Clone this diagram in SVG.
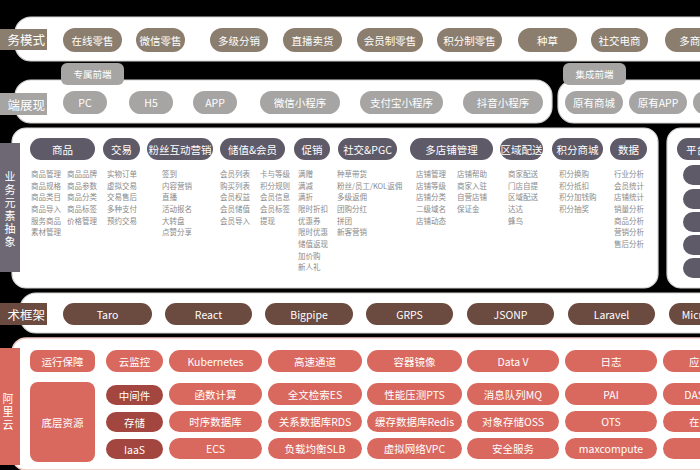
<svg xmlns="http://www.w3.org/2000/svg" width="700" height="470" viewBox="0 0 700 470">
<style>
text{font-family:"Noto Sans CJK SC","Liberation Sans",sans-serif;}
.panel{fill:#ffffff;stroke:#d6d4d2;stroke-width:1.2;}
.pw{fill:#ffffff;font-size:10.5px;text-anchor:middle;dominant-baseline:central;}
.lab{fill:#ffffff;font-size:12.5px;text-anchor:end;dominant-baseline:central;}
.vlab{fill:#ffffff;font-size:11px;writing-mode:vertical-rl;letter-spacing:2px;}
.m{fill:#8b7e6e;}
.f{fill:#a6a5a3;}
.h{fill:#5f5a68;}
.b{fill:#6b4a3f;}
.r{fill:#d9685e;}
.rd{fill:#a2463f;}
.it{fill:#8a8a8a;font-size:7.5px;}
</style>
<rect x="0" y="0" width="700" height="470" fill="#000000"/>

<!-- Row 1: business mode -->
<g id="row-mode">
<rect class="panel" x="15" y="17" width="700" height="44" rx="16"/>
<rect class="m" x="-5" y="29" width="52" height="21"/>
<text class="lab" x="45" y="39.5">务模式</text>
<g id="m1"><rect class="m" x="63" y="28" width="59" height="24" rx="12"/><text class="pw" x="92.5" y="40">在线零售</text></g>
<g id="m2"><rect class="m" x="136" y="28" width="49" height="24" rx="12"/><text class="pw" x="160.5" y="40">微信零售</text></g>
<g id="m3"><rect class="m" x="210" y="28" width="58" height="24" rx="12"/><text class="pw" x="239" y="40">多级分销</text></g>
<g id="m4"><rect class="m" x="283" y="28" width="59" height="24" rx="12"/><text class="pw" x="312.5" y="40">直播卖货</text></g>
<g id="m5"><rect class="m" x="357" y="28" width="66" height="24" rx="12"/><text class="pw" x="390" y="40">会员制零售</text></g>
<g id="m6"><rect class="m" x="437" y="28" width="65" height="24" rx="12"/><text class="pw" x="469.5" y="40">积分制零售</text></g>
<g id="m7"><rect class="m" x="518" y="28" width="59" height="24" rx="12"/><text class="pw" x="547.5" y="40">种草</text></g>
<g id="m8"><rect class="m" x="591" y="28" width="57" height="24" rx="12"/><text class="pw" x="619.5" y="40">社交电商</text></g>
<g id="m9"><rect class="m" x="665" y="28" width="60" height="24" rx="12"/><text class="pw" x="695" y="40">多商户</text></g>
</g>

<!-- Row 2: front end -->
<g id="row-front">
<rect class="panel" x="15" y="80" width="537" height="43" rx="16"/>
<rect class="panel" x="558" y="80" width="160" height="43" rx="16"/>
<g id="tab1"><rect class="f" x="61" y="63" width="63" height="22" rx="6"/><text class="pw" x="92.5" y="74" style="font-size:9.5px">专属前端</text></g>
<g id="tab2"><rect class="f" x="563" y="63" width="63" height="22" rx="6"/><text class="pw" x="594.5" y="74" style="font-size:9.5px">集成前端</text></g>
<rect class="f" x="-5" y="93" width="52" height="22"/>
<text class="lab" x="45" y="104">端展现</text>
<g id="f1"><rect class="f" x="63" y="91" width="44" height="23" rx="11.5"/><text class="pw" x="85" y="102.5">PC</text></g>
<g id="f2"><rect class="f" x="129" y="91" width="44" height="23" rx="11.5"/><text class="pw" x="151" y="102.5">H5</text></g>
<g id="f3"><rect class="f" x="193" y="91" width="44" height="23" rx="11.5"/><text class="pw" x="215" y="102.5">APP</text></g>
<g id="f4"><rect class="f" x="260" y="91" width="80" height="23" rx="11.5"/><text class="pw" x="300" y="102.5">微信小程序</text></g>
<g id="f5"><rect class="f" x="360" y="91" width="83" height="23" rx="11.5"/><text class="pw" x="401.5" y="102.5">支付宝小程序</text></g>
<g id="f6"><rect class="f" x="463" y="91" width="80" height="23" rx="11.5"/><text class="pw" x="503" y="102.5">抖音小程序</text></g>
<g id="f7"><rect class="f" x="565" y="91" width="58" height="23" rx="11.5"/><text class="pw" x="594" y="102.5">原有商城</text></g>
<g id="f8"><rect class="f" x="629" y="91" width="58" height="23" rx="11.5"/><text class="pw" x="658" y="102.5">原有APP</text></g>
<g id="f9"><rect class="f" x="693" y="91" width="58" height="23" rx="11.5"/></g>
</g>

<!-- Row 3: business elements -->
<g id="row-elements">
<rect class="panel" x="12" y="128" width="646" height="160" rx="14"/>
<rect class="panel" x="667" y="128" width="60" height="160" rx="14"/>
<rect x="-5" y="143" width="25" height="129" fill="#6d6874"/>
<text class="vlab" x="10" y="171">业务元素抽象</text>

<g id="h1"><rect class="h" x="30" y="138" width="65" height="22" rx="11"/><text class="pw" x="62.5" y="149">商品</text></g>
<g id="h2"><rect class="h" x="103" y="138" width="37" height="22" rx="11"/><text class="pw" x="121.5" y="149">交易</text></g>
<g id="h3"><rect class="h" x="147" y="138" width="66" height="22" rx="11"/><text class="pw" x="180" y="149">粉丝互动营销</text></g>
<g id="h4"><rect class="h" x="220" y="138" width="65" height="22" rx="11"/><text class="pw" x="252.5" y="149">储值&amp;会员</text></g>
<g id="h5"><rect class="h" x="294" y="138" width="36" height="22" rx="11"/><text class="pw" x="312" y="149">促销</text></g>
<g id="h6"><rect class="h" x="338" y="138" width="59" height="22" rx="11"/><text class="pw" x="367.5" y="149">社交&amp;PGC</text></g>
<g id="h7"><rect class="h" x="410" y="138" width="83" height="22" rx="11"/><text class="pw" x="451.5" y="149">多店铺管理</text></g>
<g id="h8"><rect class="h" x="500" y="138" width="43" height="22" rx="11"/><text class="pw" x="521.5" y="149">区域配送</text></g>
<g id="h9"><rect class="h" x="552" y="138" width="51" height="22" rx="11"/><text class="pw" x="577.5" y="149">积分商城</text></g>
<g id="h10"><rect class="h" x="610" y="138" width="37" height="22" rx="11"/><text class="pw" x="628.5" y="149">数据</text></g>
<g id="h11"><rect class="h" x="677" y="138" width="60" height="22" rx="11"/><text class="pw" x="707" y="149">平台管理</text></g>
<g id="side-pills">
<rect class="h" x="683" y="165" width="40" height="20" rx="10"/>
<rect class="h" x="683" y="189" width="40" height="20" rx="10"/>
<rect class="h" x="683" y="212" width="40" height="20" rx="10"/>
<rect class="h" x="683" y="235" width="40" height="20" rx="10"/>
<rect class="h" x="683" y="258" width="40" height="20" rx="10"/>
</g>

<g id="items">
<text class="it" x="31"><tspan x="31" y="177">商品管理</tspan><tspan x="31" y="189">商品规格</tspan><tspan x="31" y="200">商品类目</tspan><tspan x="31" y="212">商品导入</tspan><tspan x="31" y="224">服务商品</tspan><tspan x="31" y="235">素材管理</tspan></text>
<text class="it" x="67"><tspan x="67" y="177">商品品牌</tspan><tspan x="67" y="189">商品参数</tspan><tspan x="67" y="200">商品分类</tspan><tspan x="67" y="212">商品标签</tspan><tspan x="67" y="224">价格管理</tspan></text>
<text class="it" x="107"><tspan x="107" y="177">实物订单</tspan><tspan x="107" y="189">虚拟交易</tspan><tspan x="107" y="200">交易售后</tspan><tspan x="107" y="212">多种支付</tspan><tspan x="107" y="224">预约交易</tspan></text>
<text class="it" x="162"><tspan x="162" y="177">签到</tspan><tspan x="162" y="189">内容营销</tspan><tspan x="162" y="200">直播</tspan><tspan x="162" y="212">活动报名</tspan><tspan x="162" y="224">大转盘</tspan><tspan x="162" y="235">点赞分享</tspan></text>
<text class="it" x="220"><tspan x="220" y="177">会员列表</tspan><tspan x="220" y="189">购买列表</tspan><tspan x="220" y="200">会员权益</tspan><tspan x="220" y="212">会员储值</tspan><tspan x="220" y="224">会员导入</tspan></text>
<text class="it" x="260"><tspan x="260" y="177">卡与等级</tspan><tspan x="260" y="189">积分规则</tspan><tspan x="260" y="200">会员信息</tspan><tspan x="260" y="212">会员标签</tspan><tspan x="260" y="224">提现</tspan></text>
<text class="it" x="298"><tspan x="298" y="177">满赠</tspan><tspan x="298" y="189">满减</tspan><tspan x="298" y="200">满折</tspan><tspan x="298" y="212">限时折扣</tspan><tspan x="298" y="224">优惠券</tspan><tspan x="298" y="235">限时优惠</tspan><tspan x="298" y="247">储值返现</tspan><tspan x="298" y="259">加价购</tspan><tspan x="298" y="270">新人礼</tspan></text>
<text class="it" x="337"><tspan x="337" y="177">种草带货</tspan><tspan x="337" y="189">粉丝/员工/KOL返佣</tspan><tspan x="337" y="200">多级返佣</tspan><tspan x="337" y="212">团购分红</tspan><tspan x="337" y="224">拼团</tspan><tspan x="337" y="235">新客营销</tspan></text>
<text class="it" x="416"><tspan x="416" y="177">店铺管理</tspan><tspan x="416" y="189">店铺等级</tspan><tspan x="416" y="200">店铺分类</tspan><tspan x="416" y="212">二级域名</tspan><tspan x="416" y="224">店铺动态</tspan></text>
<text class="it" x="457"><tspan x="457" y="177">店铺帮助</tspan><tspan x="457" y="189">商家入驻</tspan><tspan x="457" y="200">自营店铺</tspan><tspan x="457" y="212">保证金</tspan></text>
<text class="it" x="508"><tspan x="508" y="177">商家配送</tspan><tspan x="508" y="189">门店自提</tspan><tspan x="508" y="200">区域配送</tspan><tspan x="508" y="212">达达</tspan><tspan x="508" y="224">蜂鸟</tspan></text>
<text class="it" x="559"><tspan x="559" y="177">积分换购</tspan><tspan x="559" y="189">积分抵扣</tspan><tspan x="559" y="200">积分加钱购</tspan><tspan x="559" y="212">积分抽奖</tspan></text>
<text class="it" x="614"><tspan x="614" y="177">行业分析</tspan><tspan x="614" y="189">会员统计</tspan><tspan x="614" y="200">店铺统计</tspan><tspan x="614" y="212">销量分析</tspan><tspan x="614" y="224">商品分析</tspan><tspan x="614" y="235">营销分析</tspan><tspan x="614" y="247">售后分析</tspan></text>
</g>
</g>

<!-- Row 4: tech framework -->
<g id="row-tech">
<rect class="panel" x="20" y="293" width="700" height="40" rx="16"/>
<rect class="b" x="-5" y="303" width="52" height="22"/>
<text class="lab" x="45" y="314">术框架</text>
<g id="t1"><rect class="b" x="63" y="303" width="89" height="22" rx="11"/><text class="pw" x="107.5" y="314">Taro</text></g>
<g id="t2"><rect class="b" x="165" y="303" width="87" height="22" rx="11"/><text class="pw" x="208.5" y="314">React</text></g>
<g id="t3"><rect class="b" x="265" y="303" width="88" height="22" rx="11"/><text class="pw" x="309" y="314">Bigpipe</text></g>
<g id="t4"><rect class="b" x="366" y="303" width="87" height="22" rx="11"/><text class="pw" x="409.5" y="314">GRPS</text></g>
<g id="t5"><rect class="b" x="467" y="303" width="87" height="22" rx="11"/><text class="pw" x="510.5" y="314">JSONP</text></g>
<g id="t6"><rect class="b" x="568" y="303" width="87" height="22" rx="11"/><text class="pw" x="611.5" y="314">Laravel</text></g>
<g id="t7"><rect class="b" x="669" y="303" width="87" height="22" rx="11"/><text class="pw" x="712.5" y="314">Microservice</text></g>
</g>

<!-- Row 5: cloud -->
<g id="row-cloud">
<rect x="12" y="338" width="710" height="132" rx="14" fill="#ffffff" stroke="#f0c9c4" stroke-width="1.5"/>
<rect class="r" x="-5" y="348" width="25" height="117"/>
<text class="vlab" x="8" y="393">阿里云</text>
<g id="c-run"><rect class="r" x="30" y="350" width="65" height="22" rx="7"/><text class="pw" x="62.5" y="361">运行保障</text></g>
<g id="c-base"><rect class="r" x="30" y="382" width="65" height="80" rx="8"/><text class="pw" x="62.5" y="422">底层资源</text></g>
<g id="c-mon"><rect class="r" x="106" y="350" width="57" height="22" rx="11"/><text class="pw" x="134.5" y="361">云监控</text></g>
<g id="c-mid"><rect class="rd" x="106" y="385" width="57" height="20" rx="10"/><text class="pw" x="134.5" y="395">中间件</text></g>
<g id="c-sto"><rect class="rd" x="106" y="412" width="57" height="20" rx="10"/><text class="pw" x="134.5" y="422">存储</text></g>
<g id="c-iaas"><rect class="rd" x="106" y="439" width="57" height="20" rx="10"/><text class="pw" x="134.5" y="449">IaaS</text></g>

<g id="c11"><rect class="r" x="169" y="350" width="93" height="22" rx="11"/><text class="pw" x="215.5" y="361">Kubernetes</text></g>
<g id="c12"><rect class="r" x="268" y="350" width="94" height="22" rx="11"/><text class="pw" x="315" y="361">高速通道</text></g>
<g id="c13"><rect class="r" x="367" y="350" width="95" height="22" rx="11"/><text class="pw" x="414.5" y="361">容器镜像</text></g>
<g id="c14"><rect class="r" x="467" y="350" width="92" height="22" rx="11"/><text class="pw" x="513" y="361">Data V</text></g>
<g id="c15"><rect class="r" x="565" y="350" width="92" height="22" rx="11"/><text class="pw" x="611" y="361">日志</text></g>
<g id="c16"><rect class="r" x="663" y="350" width="94" height="22" rx="11"/><text class="pw" x="710" y="361">应用监控</text></g>

<g id="c21"><rect class="r" x="169" y="383" width="93" height="22" rx="11"/><text class="pw" x="215.5" y="394">函数计算</text></g>
<g id="c22"><rect class="r" x="268" y="383" width="94" height="22" rx="11"/><text class="pw" x="315" y="394">全文检索ES</text></g>
<g id="c23"><rect class="r" x="367" y="383" width="95" height="22" rx="11"/><text class="pw" x="414.5" y="394">性能压测PTS</text></g>
<g id="c24"><rect class="r" x="467" y="383" width="92" height="22" rx="11"/><text class="pw" x="513" y="394">消息队列MQ</text></g>
<g id="c25"><rect class="r" x="565" y="383" width="92" height="22" rx="11"/><text class="pw" x="611" y="394">PAI</text></g>
<g id="c26"><rect class="r" x="663" y="383" width="94" height="22" rx="11"/><text class="pw" x="710" y="394">DAS数据库</text></g>

<g id="c31"><rect class="r" x="169" y="411" width="93" height="21" rx="10.5"/><text class="pw" x="215.5" y="421.5">时序数据库</text></g>
<g id="c32"><rect class="r" x="268" y="411" width="94" height="21" rx="10.5"/><text class="pw" x="315" y="421.5">关系数据库RDS</text></g>
<g id="c33"><rect class="r" x="367" y="411" width="95" height="21" rx="10.5"/><text class="pw" x="414.5" y="421.5">缓存数据库Redis</text></g>
<g id="c34"><rect class="r" x="467" y="411" width="92" height="21" rx="10.5"/><text class="pw" x="513" y="421.5">对象存储OSS</text></g>
<g id="c35"><rect class="r" x="565" y="411" width="92" height="21" rx="10.5"/><text class="pw" x="611" y="421.5">OTS</text></g>
<g id="c36"><rect class="r" x="663" y="411" width="94" height="21" rx="10.5"/><text class="pw" x="710" y="421.5">在线分析</text></g>

<g id="c41"><rect class="r" x="169" y="438" width="93" height="21" rx="10.5"/><text class="pw" x="215.5" y="448.5">ECS</text></g>
<g id="c42"><rect class="r" x="268" y="438" width="94" height="21" rx="10.5"/><text class="pw" x="315" y="448.5">负载均衡SLB</text></g>
<g id="c43"><rect class="r" x="367" y="438" width="95" height="21" rx="10.5"/><text class="pw" x="414.5" y="448.5">虚拟网络VPC</text></g>
<g id="c44"><rect class="r" x="467" y="438" width="92" height="21" rx="10.5"/><text class="pw" x="513" y="448.5">安全服务</text></g>
<g id="c45"><rect class="r" x="565" y="438" width="92" height="21" rx="10.5"/><text class="pw" x="611" y="448.5">maxcompute</text></g>
<g id="c46"><rect class="r" x="663" y="438" width="94" height="21" rx="10.5"/></g>
</g>
<g id="connectors"></g>
</svg>
